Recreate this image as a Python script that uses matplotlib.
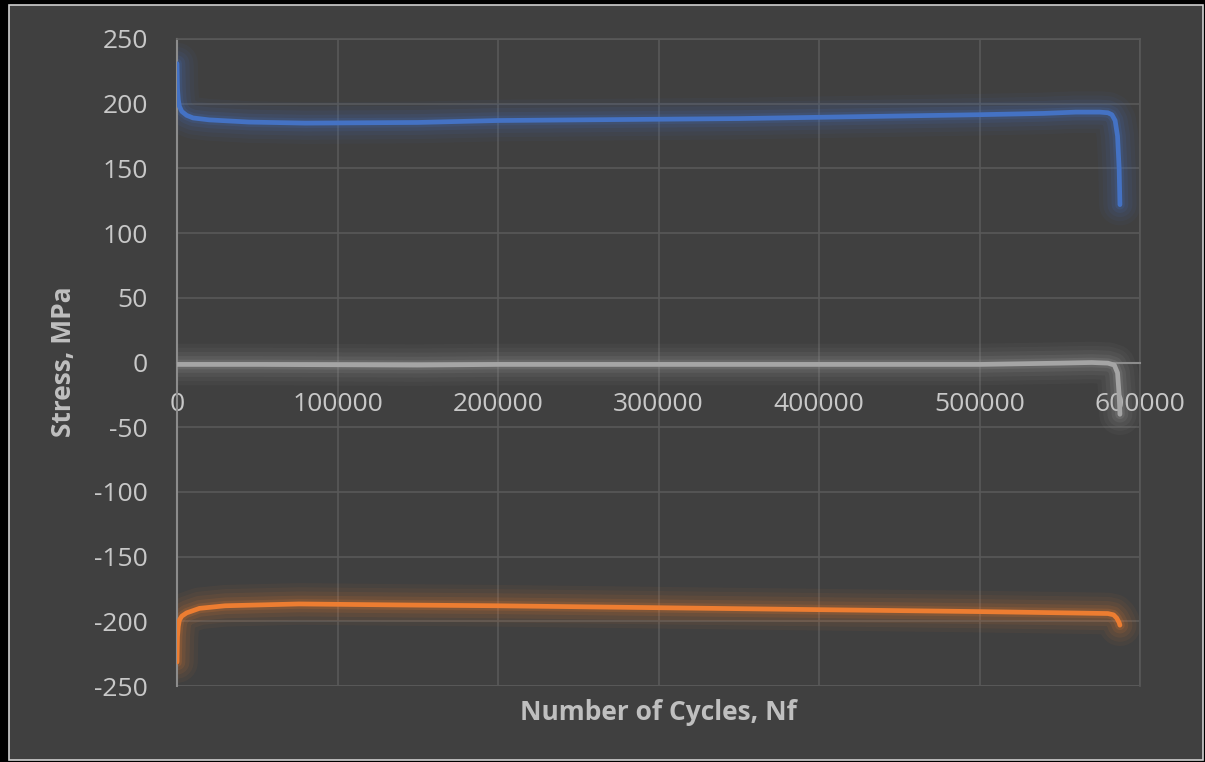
import matplotlib.pyplot as plt
from matplotlib.patches import Rectangle

plt.rcParams['font.family'] = ['Open Sans', 'DejaVu Sans']
plt.rcParams['axes.unicode_minus'] = False

# stress amplitude vs cycles
cyc_max = [0, 300, 800, 1500, 3000, 6000, 10000, 20000, 45000, 80000, 150000,
           200000, 250000, 300000, 350000, 400000, 450000, 500000, 540000,
           560000, 575000, 580000, 582500, 584500, 586000, 587000, 587500]
s_max = [231, 212, 203, 198, 194, 191, 189, 187.5, 185.8, 185, 185.5,
         187, 187.5, 188, 188.5, 189.5, 190.5, 191.5, 192.5,
         193.5, 193.5, 193, 191.5, 187, 175, 150, 122]

cyc_mean = [0, 50000, 150000, 200000, 300000, 400000, 500000, 550000,
            570000, 580000, 584000, 586000, 587000, 587500]
s_mean = [-1.5, -1.5, -2, -1.5, -1.5, -1.5, -1.5, -0.5,
          0, -0.5, -2, -8, -25, -40]

cyc_min = [0, 300, 800, 1500, 3000, 6000, 14000, 30000, 76000, 150000,
           200000, 300000, 400000, 500000, 560000, 580000, 583500, 585500,
           587000, 587500]
s_min = [-231.5, -212, -204, -199, -196, -193.5, -190, -188, -186.6, -187.5,
         -188, -189.5, -191, -192.5, -193.6, -194, -195, -197.5,
         -201, -203]

series = [(cyc_max, s_max, '#4472C4'),
          (cyc_mean, s_mean, '#A5A5A5'),
          (cyc_min, s_min, '#ED7D31')]

fig = plt.figure(figsize=(12.05, 7.62), dpi=100)
fig.patch.set_facecolor('black')
W, H = 1205, 762
fig.patches.append(Rectangle((8.5 / W, 2 / H), (1203 - 8.5) / W, (757 - 2) / H,
                             transform=fig.transFigure, facecolor='#404040',
                             edgecolor='#d0d0d0', linewidth=1.2, zorder=-10))

ax = fig.add_axes([177 / W, 1 - 686 / H, (1140 - 177) / W, (686 - 39) / H])
ax.set_facecolor('none')

for x, y, c in series:
    # soft glow
    for lw, a in [(30, 0.05), (24, 0.06), (18, 0.08), (12, 0.11), (7, 0.16)]:
        ax.plot(x, y, color=c, lw=lw, alpha=a, solid_capstyle='round',
                solid_joinstyle='round', zorder=2)
    ax.plot(x, y, color=c, lw=3.4, solid_capstyle='round',
            solid_joinstyle='round', zorder=3)

ax.set_xlim(0, 600000)
ax.set_ylim(-250, 250)
ax.set_xticks(range(0, 600001, 100000))
ax.set_yticks(range(-250, 251, 50))
ax.grid(True, color='#595959', lw=1.2)
ax.set_axisbelow(True)

for s in ['top', 'right']:
    ax.spines[s].set_color('#595959')
    ax.spines[s].set_linewidth(1.2)
ax.spines['left'].set_color('#8c8c8c')
ax.spines['left'].set_linewidth(1.5)
ax.spines['bottom'].set_position(('data', 0))
ax.spines['bottom'].set_color('#8c8c8c')
ax.spines['bottom'].set_linewidth(1.5)
ax.plot([0, 600000], [-250, -250], color='#595959', lw=1.2, zorder=1)

ax.tick_params(length=0, labelsize=19, colors='#c8c8c8')
ax.tick_params(axis='x', pad=21)
ax.tick_params(axis='y', pad=21)

fig.text(658 / W, 1 - 712 / H, 'Number of Cycles, Nf', ha='center', va='center',
         fontsize=19, fontweight='bold', color='#bfbfbf')
fig.text(63 / W, 1 - 362 / H, 'Stress, MPa', ha='center', va='center',
         rotation=90, fontsize=19, fontweight='bold', color='#bfbfbf')

fig.savefig('out.png', dpi=100, facecolor=fig.get_facecolor())
